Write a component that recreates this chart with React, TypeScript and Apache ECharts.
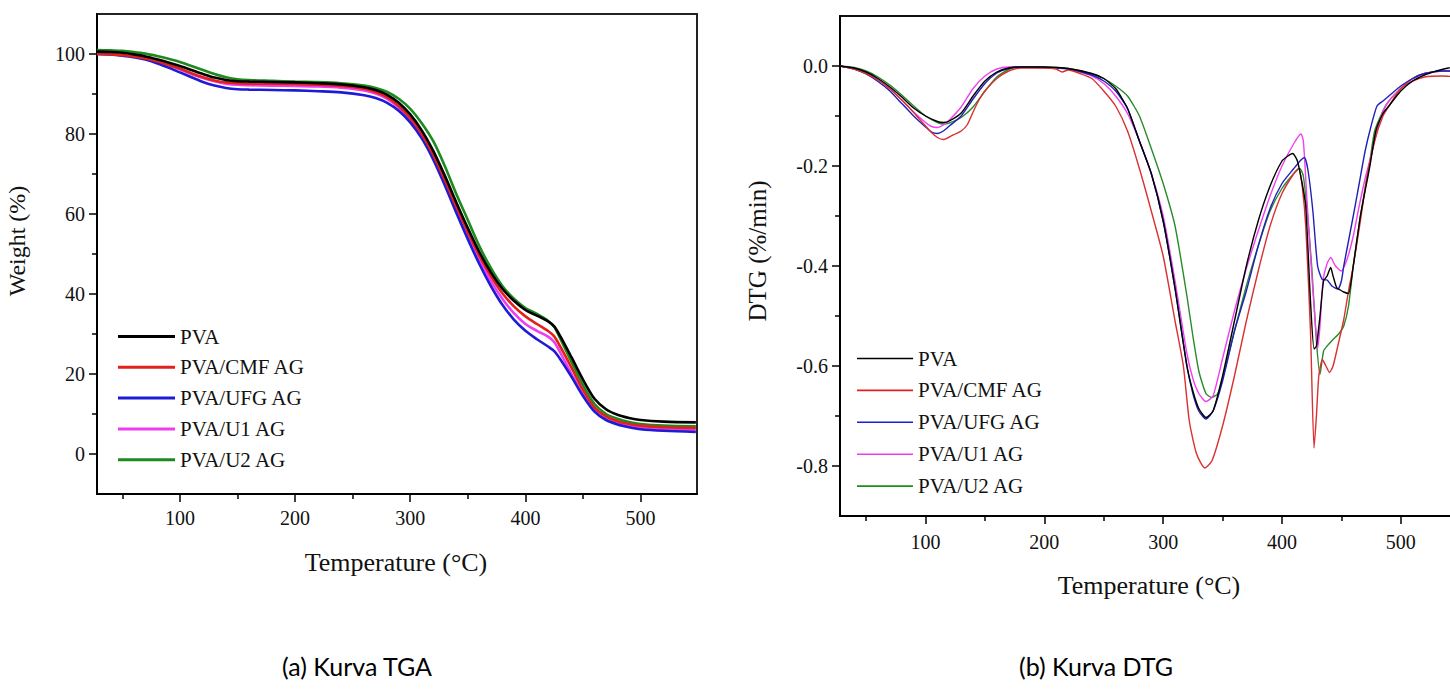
import React, { useEffect, useRef } from "react";
import * as echarts from "echarts";

const SERIES_NAMES = ["PVA", "PVA/CMF AG", "PVA/UFG AG", "PVA/U1 AG", "PVA/U2 AG"];
const TGA_COLORS = ["#000000", "#e3211c", "#1c1cd6", "#f03cf0", "#1e8a1e"];
const DTG_COLORS = ["#000000", "#d93030", "#2020b8", "#f040f0", "#2a8a2a"];

// TGA (Weight %) vs temperature
const TGA_TEMP = [28, 40, 50, 60, 70, 80, 90, 100, 110, 120, 130, 140, 150, 160, 180, 200, 220, 240, 260, 270, 280, 290, 300, 310, 320, 330, 340, 350, 360, 370, 380, 390, 400, 410, 420, 425, 430, 440, 450, 460, 470, 480, 490, 500, 520, 548];
const TGA_PVA = [100.6, 100.5, 100.3, 99.9, 99.4, 98.7, 97.9, 97.0, 96.0, 95.0, 94.1, 93.5, 93.2, 93.1, 93.0, 92.9, 92.7, 92.4, 91.7, 91.0, 89.8, 87.8, 84.9, 80.9, 75.8, 69.6, 62.9, 56.5, 50.5, 45.4, 41.3, 38.3, 36.0, 34.6, 33.1, 31.9, 29.6, 24.2, 18.6, 13.8, 11.2, 9.8, 9.0, 8.5, 8.1, 7.9];
const TGA_CMF = [100.0, 99.9, 99.7, 99.4, 98.9, 98.2, 97.3, 96.3, 95.2, 94.2, 93.4, 92.9, 92.7, 92.6, 92.6, 92.5, 92.3, 92.0, 91.3, 90.5, 89.2, 87.0, 84.0, 80.0, 74.8, 68.5, 61.8, 55.5, 49.6, 44.5, 40.2, 36.9, 34.4, 32.5, 30.7, 29.4, 27.0, 21.6, 16.0, 11.6, 9.4, 8.2, 7.5, 7.1, 6.7, 6.5];
const TGA_UFG = [100.0, 99.9, 99.6, 99.2, 98.6, 97.7, 96.6, 95.4, 94.2, 93.0, 92.1, 91.5, 91.2, 91.1, 91.0, 90.9, 90.7, 90.4, 89.7, 89.0, 87.8, 85.8, 82.9, 78.9, 73.6, 67.2, 60.3, 53.7, 47.5, 42.0, 37.3, 33.6, 30.8, 28.7, 26.8, 25.7, 23.8, 19.3, 14.5, 10.6, 8.5, 7.4, 6.7, 6.2, 5.8, 5.5];
const TGA_U1 = [100.0, 99.9, 99.7, 99.4, 98.9, 98.1, 97.2, 96.2, 95.0, 94.0, 93.2, 92.6, 92.3, 92.2, 92.1, 92.0, 91.9, 91.6, 90.9, 90.1, 88.8, 86.6, 83.6, 79.5, 74.2, 67.8, 61.0, 54.6, 48.6, 43.3, 38.8, 35.2, 32.5, 30.8, 29.3, 28.0, 25.5, 20.0, 14.8, 10.8, 8.7, 7.6, 7.0, 6.6, 6.2, 6.0];
const TGA_U2 = [101.0, 100.9, 100.8, 100.5, 100.1, 99.5, 98.8, 98.0, 97.0, 96.0, 95.0, 94.2, 93.7, 93.5, 93.3, 93.1, 93.0, 92.7, 92.1, 91.5, 90.5, 88.8, 86.3, 82.7, 78.2, 72.0, 65.0, 58.5, 52.0, 46.5, 42.0, 38.8, 36.5, 35.0, 33.2, 31.8, 29.0, 23.0, 17.2, 12.5, 10.0, 8.8, 8.0, 7.5, 7.1, 6.9];

// DTG (%/min) points: [temperature, value]
const DTG_PVA = [[28, 0], [40, -0.004], [50, -0.012], [60, -0.025], [70, -0.042], [80, -0.062], [90, -0.084], [100, -0.1], [110, -0.111], [115, -0.113], [120, -0.11], [130, -0.094], [140, -0.06], [150, -0.03], [160, -0.012], [170, -0.004], [180, -0.002], [200, -0.002], [220, -0.005], [240, -0.015], [250, -0.025], [260, -0.045], [270, -0.085], [280, -0.15], [290, -0.215], [300, -0.31], [310, -0.445], [320, -0.6], [325, -0.65], [330, -0.685], [336, -0.703], [342, -0.69], [350, -0.62], [360, -0.51], [370, -0.4], [380, -0.31], [390, -0.24], [400, -0.19], [405, -0.18], [409, -0.175], [413, -0.19], [417, -0.235], [420, -0.28], [424, -0.47], [427, -0.566], [429, -0.56], [432, -0.5], [435, -0.43], [438, -0.42], [441, -0.403], [443, -0.42], [446, -0.443], [449, -0.448], [452, -0.452], [456, -0.455], [460, -0.4], [466, -0.3], [474, -0.2], [479, -0.13], [485, -0.095], [490, -0.08], [500, -0.05], [510, -0.03], [520, -0.018], [530, -0.01], [540, -0.004], [549, 0.0]];
const DTG_CMF = [[28, 0], [40, -0.006], [50, -0.015], [60, -0.028], [70, -0.046], [80, -0.068], [90, -0.093], [100, -0.12], [105, -0.133], [110, -0.143], [115, -0.147], [120, -0.142], [125, -0.136], [130, -0.13], [135, -0.118], [140, -0.092], [145, -0.068], [150, -0.05], [160, -0.025], [170, -0.01], [180, -0.004], [200, -0.004], [210, -0.006], [215, -0.012], [220, -0.008], [230, -0.015], [240, -0.025], [250, -0.05], [260, -0.08], [270, -0.13], [280, -0.205], [290, -0.29], [300, -0.38], [310, -0.51], [317, -0.6], [322, -0.71], [328, -0.775], [335, -0.804], [341, -0.79], [350, -0.72], [360, -0.62], [370, -0.51], [380, -0.41], [390, -0.32], [400, -0.255], [410, -0.215], [414, -0.205], [417, -0.24], [420, -0.32], [424, -0.53], [427, -0.764], [429, -0.7], [431, -0.62], [434, -0.587], [437, -0.6], [440, -0.613], [443, -0.6], [447, -0.56], [452, -0.507], [456, -0.45], [460, -0.4], [466, -0.31], [471, -0.23], [478, -0.15], [485, -0.1], [490, -0.08], [500, -0.045], [510, -0.03], [520, -0.022], [535, -0.02], [549, -0.022]];
const DTG_UFG = [[28, 0], [40, -0.006], [50, -0.016], [60, -0.031], [70, -0.05], [80, -0.075], [90, -0.1], [100, -0.122], [105, -0.132], [110, -0.135], [115, -0.13], [120, -0.12], [130, -0.1], [140, -0.066], [150, -0.035], [160, -0.014], [170, -0.005], [180, -0.002], [200, -0.003], [220, -0.006], [240, -0.018], [250, -0.03], [260, -0.05], [270, -0.085], [280, -0.15], [290, -0.215], [300, -0.31], [310, -0.445], [320, -0.6], [325, -0.655], [330, -0.69], [336, -0.706], [342, -0.69], [350, -0.63], [360, -0.53], [370, -0.45], [380, -0.36], [390, -0.285], [400, -0.235], [410, -0.205], [416, -0.188], [419, -0.183], [422, -0.21], [426, -0.29], [430, -0.4], [434, -0.427], [438, -0.428], [442, -0.44], [447, -0.446], [450, -0.43], [452, -0.4], [456, -0.35], [460, -0.3], [465, -0.235], [470, -0.17], [475, -0.12], [480, -0.08], [485, -0.07], [490, -0.06], [500, -0.04], [510, -0.025], [520, -0.015], [535, -0.01], [549, -0.01]];
const DTG_U1 = [[28, 0], [40, -0.006], [50, -0.015], [60, -0.028], [70, -0.045], [80, -0.068], [90, -0.092], [100, -0.113], [105, -0.121], [110, -0.123], [115, -0.118], [120, -0.108], [130, -0.082], [140, -0.045], [150, -0.02], [160, -0.006], [170, -0.002], [180, -0.002], [200, -0.003], [220, -0.006], [240, -0.02], [250, -0.035], [260, -0.06], [270, -0.095], [280, -0.15], [290, -0.215], [300, -0.3], [310, -0.43], [320, -0.575], [325, -0.625], [330, -0.655], [336, -0.671], [342, -0.66], [350, -0.585], [360, -0.49], [370, -0.405], [380, -0.33], [390, -0.26], [400, -0.2], [410, -0.155], [416, -0.136], [418, -0.15], [421, -0.266], [424, -0.38], [427, -0.48], [430, -0.565], [432, -0.52], [434.5, -0.43], [438, -0.395], [441, -0.383], [445, -0.4], [450, -0.41], [455, -0.385], [460, -0.34], [465, -0.28], [470, -0.225], [475, -0.18], [480, -0.13], [485, -0.09], [490, -0.07], [500, -0.045], [510, -0.025], [520, -0.015], [535, -0.01], [549, -0.008]];
const DTG_U2 = [[28, 0], [40, -0.003], [50, -0.01], [60, -0.022], [70, -0.038], [80, -0.058], [90, -0.08], [100, -0.1], [110, -0.113], [115, -0.116], [120, -0.114], [130, -0.103], [140, -0.082], [150, -0.05], [160, -0.022], [170, -0.007], [180, -0.002], [200, -0.002], [220, -0.005], [240, -0.016], [250, -0.025], [260, -0.04], [270, -0.06], [280, -0.1], [290, -0.165], [300, -0.235], [310, -0.32], [320, -0.46], [325, -0.54], [330, -0.61], [336, -0.655], [341, -0.663], [346, -0.655], [350, -0.625], [360, -0.53], [370, -0.44], [380, -0.36], [390, -0.29], [400, -0.245], [410, -0.215], [415, -0.205], [418, -0.22], [422, -0.31], [425, -0.4], [429, -0.55], [432, -0.617], [435, -0.57], [438, -0.56], [443, -0.547], [448, -0.535], [452, -0.52], [456, -0.48], [460, -0.4], [466, -0.3], [474, -0.19], [478, -0.13], [485, -0.09], [490, -0.07], [500, -0.045], [510, -0.025], [520, -0.015], [535, -0.01], [549, -0.01]];

const TEMP_TICKS = [100, 200, 300, 400, 500];
const TEMP_MINOR = [50, 150, 250, 350, 450];
const WEIGHT_TICKS = [0, 20, 40, 60, 80, 100];
const WEIGHT_MINOR = [10, 30, 50, 70, 90];
const DTG_TICKS = [0, -0.2, -0.4, -0.6, -0.8];
const DTG_MINOR = [-0.1, -0.3, -0.5, -0.7];

const SERIF = "Liberation Serif";
const SANS = "Lato";
const INK = "#111111";

function majorAxis(gridIndex: number, min: number, max: number, ticks: number[], margin: number, position: string, fmt?: (v: number) => string) {
  const axisLabel: any = {
    show: true,
    customValues: ticks,
    margin,
    fontFamily: SERIF,
    fontSize: 20,
    color: INK,
  };
  if (fmt) axisLabel.formatter = fmt;
  return {
    type: "value",
    gridIndex,
    position,
    min,
    max,
    axisLine: { show: true, onZero: false, lineStyle: { color: "#000", width: 2 } },
    axisTick: { show: true, inside: false, length: 8, customValues: ticks, lineStyle: { color: "#000", width: 1.5 } },
    axisLabel,
    splitLine: { show: false },
  };
}

function minorAxis(gridIndex: number, min: number, max: number, ticks: number[], position: string) {
  return {
    type: "value",
    gridIndex,
    position,
    min,
    max,
    axisLine: { show: false, onZero: false },
    axisTick: { show: true, inside: false, length: 5, customValues: ticks, lineStyle: { color: "#000", width: 1.5 } },
    axisLabel: { show: false },
    splitLine: { show: false },
  };
}

export default function App() {
  const ref = useRef<HTMLDivElement>(null);

  useEffect(() => {
    if (!ref.current) return;
    const chart = echarts.init(ref.current, null, { renderer: "svg" });

    const tgaSets = [TGA_PVA, TGA_CMF, TGA_UFG, TGA_U1, TGA_U2];
    const dtgSets = [DTG_PVA, DTG_CMF, DTG_UFG, DTG_U1, DTG_U2];

    const series: any[] = [];
    tgaSets.forEach((vals, i) => {
      series.push({
        type: "line",
        name: SERIES_NAMES[i],
        xAxisIndex: 0,
        yAxisIndex: 0,
        data: TGA_TEMP.map((t, k) => [t, vals[k]]),
        showSymbol: false,
        symbol: "none",
        smooth: 0.3,
        itemStyle: { color: TGA_COLORS[i] },
        lineStyle: { color: TGA_COLORS[i], width: 2.6 },
        z: 10 - i,
      });
    });
    dtgSets.forEach((pts, i) => {
      series.push({
        type: "line",
        name: SERIES_NAMES[i],
        xAxisIndex: 2,
        yAxisIndex: 2,
        data: pts,
        showSymbol: false,
        symbol: "none",
        smooth: 0.2,
        itemStyle: { color: DTG_COLORS[i] },
        lineStyle: { color: DTG_COLORS[i], width: 1.4 },
        z: 10 - i,
      });
    });

    const option: any = {
      animation: false,
      backgroundColor: "#ffffff",
      textStyle: { fontFamily: SERIF },
      grid: [
        { left: 97, top: 14, width: 600, height: 480, show: true, borderColor: "#222", borderWidth: 2, backgroundColor: "transparent" },
        { left: 840, top: 16, width: 619, height: 500, show: true, borderColor: "#111", borderWidth: 2, backgroundColor: "transparent" },
      ],
      xAxis: [
        majorAxis(0, 28, 549, TEMP_TICKS, 14, "bottom"),
        minorAxis(0, 28, 549, TEMP_MINOR, "bottom"),
        majorAxis(1, 28, 549, TEMP_TICKS, 16, "bottom"),
        minorAxis(1, 28, 549, TEMP_MINOR, "bottom"),
      ],
      yAxis: [
        majorAxis(0, -10, 110, WEIGHT_TICKS, 12, "left"),
        minorAxis(0, -10, 110, WEIGHT_MINOR, "left"),
        majorAxis(1, -0.9, 0.1, DTG_TICKS, 12, "left", (v: number) => (Math.abs(v) < 1e-9 ? "0.0" : v.toFixed(1))),
        minorAxis(1, -0.9, 0.1, DTG_MINOR, "left"),
      ],
      legend: [
        {
          data: SERIES_NAMES,
          orient: "vertical",
          left: 118,
          top: 326,
          padding: 0,
          itemWidth: 57,
          itemHeight: 3,
          itemGap: 9.8,
          icon: "rect",
          selectedMode: false,
          textStyle: { fontFamily: SERIF, fontSize: 21, color: INK },
        },
        {
          data: SERIES_NAMES,
          orient: "vertical",
          left: 857,
          top: 348,
          padding: 0,
          itemWidth: 56,
          itemHeight: 1.6,
          itemGap: 10.9,
          icon: "rect",
          selectedMode: false,
          textStyle: { fontFamily: SERIF, fontSize: 21, color: INK },
        },
      ],
      graphic: [
        { type: "text", x: 17, y: 241, rotation: Math.PI / 2, style: { text: "Weight (%)", fontFamily: SERIF, fontSize: 24, fill: INK, align: "center", verticalAlign: "middle" } },
        { type: "text", x: 757, y: 251, rotation: Math.PI / 2, style: { text: "DTG (%/min)", fontFamily: SERIF, fontSize: 25, fill: INK, align: "center", verticalAlign: "middle" } },
        { type: "text", x: 396, y: 562, style: { text: "Temperature (°C)", fontFamily: SERIF, fontSize: 26, fill: INK, align: "center", verticalAlign: "middle" } },
        { type: "text", x: 1149, y: 585, style: { text: "Temperature (°C)", fontFamily: SERIF, fontSize: 26, fill: INK, align: "center", verticalAlign: "middle" } },
        { type: "text", x: 357, y: 666, style: { text: "(a) Kurva TGA", fontFamily: SANS, fontSize: 25, fill: "#000", align: "center", verticalAlign: "middle" } },
        { type: "text", x: 1096, y: 666, style: { text: "(b) Kurva DTG", fontFamily: SANS, fontSize: 25, fill: "#000", align: "center", verticalAlign: "middle" } },
      ],
      series,
    };

    chart.setOption(option);
    return () => {
      chart.dispose();
    };
  }, []);

  return (
    <div style={{ position: "fixed", left: 0, top: 0, width: 1450, height: 693, overflow: "hidden", background: "#fff" }}>
      <div ref={ref} style={{ position: "absolute", left: 0, top: 0, width: 1462, height: 693 }} />
    </div>
  );
}
